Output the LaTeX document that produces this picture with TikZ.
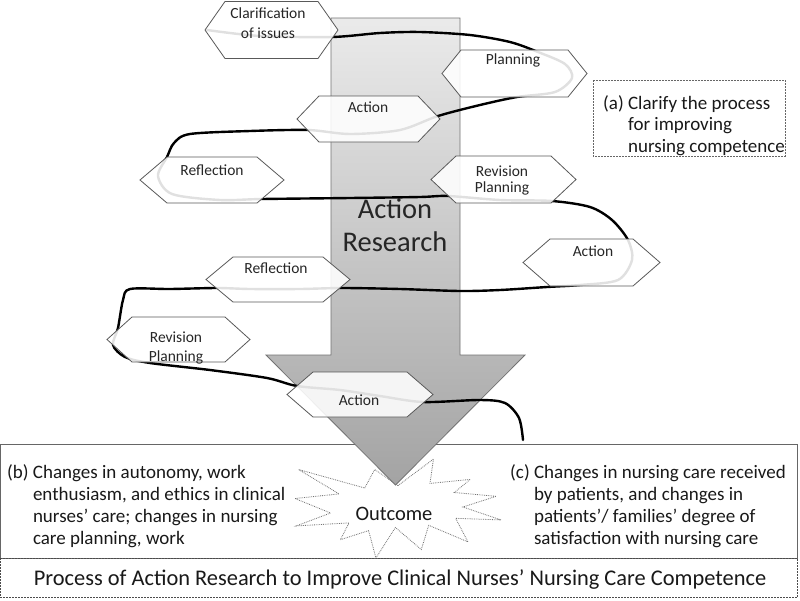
\documentclass[tikz,border=0pt]{standalone}
\usepackage{fontspec}
\setmainfont{Carlito}
\tikzset{
  hexshape/.style={fill=white, fill opacity=0.88, draw=black!65, line width=0.8},
  hexlabel/.style={font=\fontsize{15.5}{19}\selectfont, text=black!85, align=center, inner sep=0},
  snakeline/.style={line width=2.4, line join=round, line cap=round, black},
  boxtext/.style={font=\fontsize{19}{22}\selectfont, text=black!90, inner sep=0, anchor=base west},
  frameline/.style={draw=black!60, line width=0.8},
  dashframe/.style={draw=black!70, line width=0.8, dash pattern=on 2pt off 1pt},
}
\newcommand\myhex[6]{% name, cx, cy, w, h, inset
  \path[hexshape] ({#2-#4/2},#3) -- ({#2-#4/2+#6},{#3-#5/2}) -- ({#2+#4/2-#6},{#3-#5/2}) -- ({#2+#4/2},#3) -- ({#2+#4/2-#6},{#3+#5/2}) -- ({#2-#4/2+#6},{#3+#5/2}) -- cycle;
}
\begin{document}
\begin{tikzpicture}[x=1pt, y=-1pt]
\useasboundingbox (0,0) rectangle (800,600);
\fill[white] (0,0) rectangle (800,600);

% bottom frames
\draw[frameline] (0.5,444) rectangle (797,558);
\draw[dashframe] (0.5,558) rectangle (797,597.5);

% outcome explosion
\draw[fill=white, draw=black!55, densely dotted, line width=0.8]
 (398,485.6) -- (433.5,459) -- (430,483.4) -- (470.3,479.4) -- (454.3,492.5) -- (496.2,496.3)
 -- (462.9,507) -- (501,519.9) -- (455.6,518.3) -- (468,541.9) -- (428.7,525.3) -- (421.3,549.5)
 -- (395.4,527.5) -- (375.9,558) -- (368.6,530.6) -- (340.4,539.7) -- (349,522.9) -- (296.3,525.9)
 -- (330.5,513) -- (295,498.5) -- (339.1,493.9) -- (298.5,469.5) -- (364.7,488) -- (374.7,469.5) -- cycle;
\node[font=\fontsize{20.5}{24}\selectfont, text=black!90, inner sep=0] (outcome) at (394,514) {Outcome};

% big arrow
\shade[top color=black!8, bottom color=black!36, draw=black!55, line width=0.8]
 (331,18) -- (460,18) -- (460,355) -- (525,355) -- (395.5,485) -- (266,355) -- (331,355) -- cycle;
\node[font=\fontsize{28.5}{33}\selectfont, text=black!85, align=center, inner sep=0] (ar) at (395,225) {Action\\Research};

% the snaking line
\draw[snakeline] plot[smooth, tension=0.5] coordinates {
 (207,30) (260,36) (332,37) (380,33) (420,32) (470,35) (510,42) (538,52) (565,64) (572,78) (555,92) (517,97)
 (480,105) (438,116) (400,130) (350,134) (308,130) (250,131) (190,134) (174,143) (167,157) (158,176) (172,194)
 (220,200) (262,199) (350,198) (420,197) (448,196) (500,200) (552,201) (590,207) (612,220) (628,240) (632,260)
 (618,280) (580,285) (547,287) (500,290) (460,291) (400,289) (343,288) (300,289) (250,289) (217,288) (170,289)
 (130,289) (123,300) (118,328) (113,345) (125,357) (150,363) (210,370) (267,378) (297,386) (340,390) (380,396)
 (423,402) (480,400) (505,403) (519,418) (523,440)};

% hexagons
\myhex{clar}{271.5}{30}{133}{57}{20}
\node[hexlabel, font=\fontsize{15.5}{20}\selectfont] (clar) at (268,23) {Clarification\\of issues};
\myhex{plan}{514.5}{73.5}{145}{47}{19}
\node[hexlabel] (plan) at (513,60) {Planning};
\myhex{act1}{368.5}{119}{143}{46}{22}
\node[hexlabel] (act1) at (368,107) {Action};
\myhex{refl1}{212}{180}{144}{46}{27}
\node[hexlabel] (refl1) at (212,170) {Reflection};
\myhex{rp1}{503.5}{179.5}{145}{47}{25}
\node[hexlabel, font=\fontsize{15.5}{16}\selectfont] (rp1) at (502,180.5) {Revision\\Planning};
\myhex{act2}{591.5}{262.5}{137}{47}{27}
\node[hexlabel] (act2) at (593,251) {Action};
\myhex{refl2}{278}{279.5}{144}{45}{27}
\node[hexlabel] (refl2) at (276,268) {Reflection};
\myhex{rp2}{178.5}{339.5}{143}{45}{25}
\node[hexlabel] (rp2) at (176,348) {Revision\\Planning};
\myhex{act3}{360}{394.5}{146}{45}{26}
\node[hexlabel] (act3) at (359,400) {Action};

% box (a)
\draw[dashframe, draw=black!60] (593,80) rectangle (785,156);
\node[boxtext, font=\fontsize{19}{21.5}\selectfont] (ta) at (603,109)
 {\begin{tabular}[t]{@{}l@{ }l@{}}(a) & Clarify the process\\ & for improving\\ & nursing competence\end{tabular}};

% texts (b), (c)
\node[boxtext] (tb) at (7,478.5)
 {\begin{tabular}[t]{@{}l@{ }l@{}}(b) & Changes in autonomy, work\\ & enthusiasm, and ethics in clinical\\ & nurses’ care; changes in nursing\\ & care planning, work\end{tabular}};
\node[boxtext] (tc) at (510,478)
 {\begin{tabular}[t]{@{}l@{ }l@{}}(c) & Changes in nursing care received\\ & by patients, and changes in\\ & patients’/ families’ degree of\\ & satisfaction with nursing care\end{tabular}};

% title
\node[font=\fontsize{22.4}{26}\selectfont, text=black!90, inner sep=0, anchor=base] (title) at (400,585)
 {Process of Action Research to Improve Clinical Nurses’ Nursing Care Competence};
\end{tikzpicture}
\end{document}
